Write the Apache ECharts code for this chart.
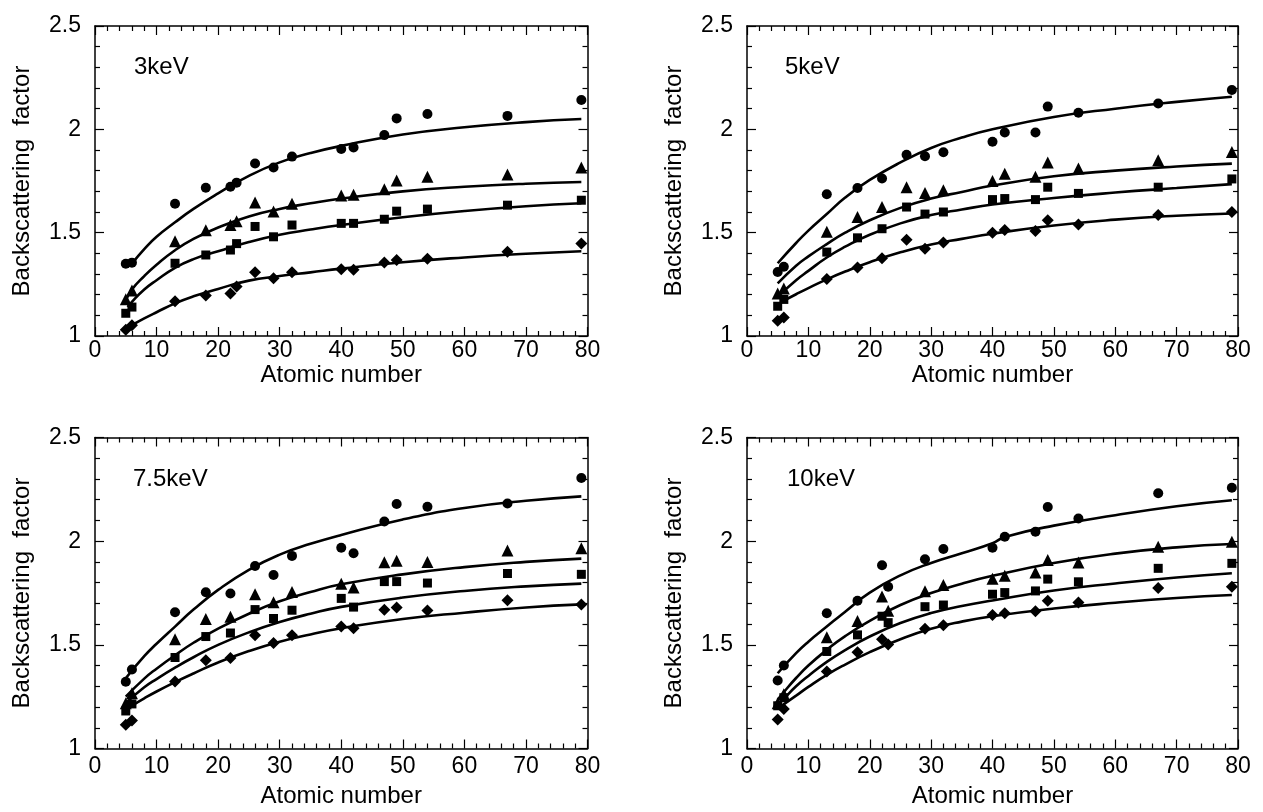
<!DOCTYPE html>
<html><head><meta charset="utf-8">
<script src="https://cdn.jsdelivr.net/npm/echarts@6/dist/echarts.min.js"></script>
<style>html,body{margin:0;padding:0;background:#fff}#c{width:1263px;height:812px}</style>
</head><body><div id="c"></div>
<script>
// ---------- data ----------
const PANEL_LABELS = ['3keV', '5keV', '7.5keV', '10keV'];
const X_TICKS = [0, 10, 20, 30, 40, 50, 60, 70, 80];
const Y_TICKS = [1, 1.5, 2, 2.5];

// 3 keV
const Z_3 = [5, 6, 13, 18, 22, 23, 26, 29, 32, 40, 42, 47, 49, 54, 67, 79];
const CIRC_3 = [1.35, 1.355, 1.64, 1.717, 1.722, 1.742, 1.835, 1.815, 1.868, 1.905, 1.912, 1.972, 2.053, 2.074, 2.065, 2.142];
const TRI_3  = [1.178, 1.22, 1.458, 1.512, 1.537, 1.555, 1.646, 1.603, 1.64, 1.68, 1.684, 1.71, 1.752, 1.77, 1.782, 1.815];
const SQ_3   = [1.11, 1.14, 1.352, 1.392, 1.416, 1.447, 1.53, 1.48, 1.537, 1.545, 1.545, 1.565, 1.604, 1.614, 1.633, 1.657];
const DIA_3  = [1.03, 1.052, 1.168, 1.196, 1.206, 1.24, 1.308, 1.28, 1.308, 1.323, 1.32, 1.356, 1.368, 1.374, 1.408, 1.447];
const FIT_CIRC_3 = [[6,1.35],[8,1.42],[10,1.48],[13,1.55],[16,1.615],[20,1.69],[25,1.775],[30,1.84],[35,1.885],[40,1.92],[50,1.975],[60,2.01],[70,2.035],[79,2.05]];
const FIT_TRI_3  = [[5,1.17],[6,1.225],[8,1.29],[10,1.345],[13,1.415],[16,1.47],[20,1.525],[25,1.578],[30,1.615],[35,1.642],[40,1.665],[50,1.7],[60,1.722],[70,1.737],[79,1.745]];
const FIT_SQ_3   = [[5.3,1.14],[6,1.165],[8,1.225],[10,1.27],[13,1.33],[16,1.372],[20,1.41],[25,1.455],[30,1.49],[35,1.515],[40,1.537],[50,1.575],[60,1.605],[70,1.628],[79,1.642]];
const FIT_DIA_3  = [[5,1.035],[6,1.052],[8,1.085],[10,1.115],[13,1.158],[16,1.192],[20,1.228],[25,1.268],[30,1.29],[35,1.308],[40,1.326],[50,1.357],[60,1.38],[70,1.398],[79,1.41]];

// 5 keV
const Z_5 = [5, 6, 13, 18, 22, 26, 29, 32, 40, 42, 47, 49, 54, 67, 79];
const CIRC_5 = [1.31, 1.335, 1.686, 1.716, 1.762, 1.877, 1.87, 1.889, 1.94, 1.985, 1.985, 2.11, 2.08, 2.125, 2.19];
const TRI_5  = [1.206, 1.23, 1.505, 1.576, 1.624, 1.72, 1.692, 1.705, 1.75, 1.785, 1.77, 1.84, 1.81, 1.85, 1.89];
const SQ_5   = [1.144, 1.177, 1.406, 1.475, 1.519, 1.624, 1.59, 1.6, 1.66, 1.665, 1.66, 1.72, 1.69, 1.72, 1.76];
const DIA_5  = [1.074, 1.09, 1.276, 1.332, 1.376, 1.466, 1.422, 1.453, 1.5, 1.513, 1.508, 1.56, 1.54, 1.585, 1.6];
const FIT_CIRC_5 = [[5,1.352],[8,1.45],[10,1.51],[13,1.59],[16,1.67],[20,1.755],[25,1.84],[30,1.91],[35,1.96],[40,2.0],[50,2.06],[60,2.1],[70,2.133],[79,2.158]];
const FIT_TRI_5  = [[5,1.255],[8,1.34],[10,1.385],[13,1.445],[16,1.5],[20,1.56],[25,1.62],[30,1.665],[35,1.697],[40,1.728],[50,1.773],[60,1.8],[70,1.82],[79,1.834]];
const FIT_SQ_5   = [[5,1.19],[8,1.27],[10,1.315],[13,1.38],[16,1.432],[20,1.49],[25,1.545],[30,1.585],[35,1.612],[40,1.636],[50,1.668],[60,1.694],[70,1.716],[79,1.735]];
const FIT_DIA_5  = [[5.7,1.166],[8,1.202],[10,1.232],[13,1.274],[16,1.312],[20,1.357],[25,1.405],[30,1.443],[35,1.47],[40,1.495],[50,1.535],[60,1.563],[70,1.582],[79,1.593]];

// 7.5 keV
const Z_75 = [5, 6, 13, 18, 22, 26, 29, 32, 40, 42, 47, 49, 54, 67, 79];
const CIRC_75 = [1.322, 1.381, 1.657, 1.754, 1.748, 1.88, 1.837, 1.929, 1.968, 1.942, 2.095, 2.179, 2.166, 2.182, 2.305];
const TRI_75  = [1.218, 1.267, 1.527, 1.624, 1.635, 1.744, 1.705, 1.755, 1.795, 1.777, 1.898, 1.906, 1.9, 1.955, 1.966];
const SQ_75   = [1.181, 1.215, 1.439, 1.54, 1.557, 1.67, 1.627, 1.667, 1.724, 1.682, 1.805, 1.805, 1.798, 1.844, 1.84];
const DIA_75  = [1.115, 1.135, 1.323, 1.426, 1.437, 1.546, 1.509, 1.546, 1.589, 1.58, 1.669, 1.68, 1.666, 1.715, 1.695];
const FIT_CIRC_75 = [[5,1.339],[8,1.445],[10,1.505],[13,1.588],[16,1.67],[20,1.765],[25,1.862],[30,1.935],[35,1.987],[40,2.03],[50,2.105],[60,2.16],[70,2.195],[79,2.216]];
const FIT_TRI_75  = [[5,1.25],[8,1.337],[10,1.385],[13,1.45],[16,1.51],[20,1.578],[25,1.65],[30,1.71],[35,1.755],[40,1.792],[50,1.84],[60,1.875],[70,1.9],[79,1.916]];
const FIT_SQ_75   = [[5,1.219],[8,1.295],[10,1.335],[13,1.39],[16,1.44],[20,1.5],[25,1.56],[30,1.61],[35,1.65],[40,1.683],[50,1.728],[60,1.76],[70,1.782],[79,1.795]];
const FIT_DIA_75  = [[5.8,1.203],[8,1.242],[10,1.275],[13,1.32],[16,1.362],[20,1.415],[25,1.47],[30,1.515],[35,1.55],[40,1.58],[50,1.625],[60,1.655],[70,1.68],[79,1.695]];

// 10 keV
const Z_10 = [5, 6, 13, 18, 22, 23, 29, 32, 40, 42, 47, 49, 54, 67, 79];
const CIRC_10 = [1.328, 1.4, 1.652, 1.713, 1.884, 1.78, 1.913, 1.962, 1.968, 2.021, 2.045, 2.165, 2.109, 2.231, 2.258];
const TRI_10  = [1.218, 1.262, 1.536, 1.615, 1.733, 1.664, 1.758, 1.788, 1.819, 1.833, 1.849, 1.909, 1.897, 1.973, 1.997];
const SQ_10   = [1.206, 1.245, 1.468, 1.548, 1.638, 1.607, 1.684, 1.692, 1.744, 1.752, 1.76, 1.817, 1.804, 1.869, 1.893];
const DIA_10  = [1.14, 1.19, 1.371, 1.464, 1.527, 1.502, 1.577, 1.595, 1.644, 1.652, 1.662, 1.713, 1.704, 1.774, 1.78];
const FIT_CIRC_10 = [[5,1.363],[8,1.46],[10,1.515],[13,1.588],[16,1.66],[20,1.752],[25,1.835],[30,1.895],[35,1.942],[40,1.99],[42,2.02],[50,2.075],[60,2.125],[70,2.168],[79,2.197]];
const FIT_TRI_10  = [[5,1.235],[6,1.272],[8,1.34],[10,1.4],[13,1.476],[16,1.542],[20,1.615],[25,1.692],[30,1.75],[35,1.795],[40,1.833],[50,1.895],[60,1.94],[70,1.97],[79,1.986]];
const FIT_SQ_10   = [[5,1.21],[6,1.24],[8,1.3],[10,1.35],[13,1.418],[16,1.475],[20,1.54],[25,1.605],[30,1.653],[35,1.687],[40,1.714],[50,1.762],[60,1.796],[70,1.825],[79,1.845]];
const FIT_DIA_10  = [[5.5,1.203],[8,1.255],[10,1.297],[13,1.355],[16,1.405],[20,1.465],[25,1.527],[30,1.577],[35,1.612],[40,1.638],[50,1.675],[60,1.703],[70,1.726],[79,1.74]];

// ---------- chart ----------
const F = '"Liberation Sans", Arial, Helvetica, sans-serif';
const PANELS = [
  {z: Z_3,  pts: [CIRC_3, TRI_3, SQ_3, DIA_3],     fits: [FIT_CIRC_3, FIT_TRI_3, FIT_SQ_3, FIT_DIA_3]},
  {z: Z_5,  pts: [CIRC_5, TRI_5, SQ_5, DIA_5],     fits: [FIT_CIRC_5, FIT_TRI_5, FIT_SQ_5, FIT_DIA_5]},
  {z: Z_75, pts: [CIRC_75, TRI_75, SQ_75, DIA_75], fits: [FIT_CIRC_75, FIT_TRI_75, FIT_SQ_75, FIT_DIA_75]},
  {z: Z_10, pts: [CIRC_10, TRI_10, SQ_10, DIA_10], fits: [FIT_CIRC_10, FIT_TRI_10, FIT_SQ_10, FIT_DIA_10]}
];
const SYMBOLS = ['circle', 'triangle', 'rect', 'diamond'];
const SIZES = [10, 12, 9, 12];

const GRIDS = [
  {left: 95,  top: 26,    width: 492.5, height: 310},
  {left: 747, top: 26,    width: 491,   height: 310},
  {left: 95,  top: 437.5, width: 492.5, height: 311},
  {left: 747, top: 437.5, width: 491,   height: 311}
];
const XLABEL_MARGIN = [3, 3, 7, 7];
const XNAME_GAP = [26, 26, 36, 36];
const LABEL_POS = [[134, 55], [785, 55], [133, 467], [787, 467]];

const lineSty = {color: '#000', width: 1.5};
const tickSty = {color: '#000', width: 1.2};

const xAxis = [], yAxis = [], series = [], title = [];
GRIDS.forEach((g, i) => {
  const base = {
    gridIndex: i, type: 'value', splitLine: {show: false},
    axisLine: {show: true, onZero: false, lineStyle: lineSty},
    axisTick: {show: true, inside: true, length: 9, lineStyle: tickSty},
    minorTick: {show: true, splitNumber: 5, length: 5, lineStyle: tickSty}
  };
  const xr = {min: X_TICKS[0], max: X_TICKS[X_TICKS.length - 1], interval: X_TICKS[1] - X_TICKS[0]};
  const yr = {min: Y_TICKS[0], max: Y_TICKS[Y_TICKS.length - 1], interval: Y_TICKS[1] - Y_TICKS[0]};
  xAxis.push(Object.assign({}, base, xr, {
    position: 'bottom',
    axisLabel: {color: '#000', fontSize: 23, fontFamily: F, margin: XLABEL_MARGIN[i]},
    name: 'Atomic number', nameLocation: 'middle', nameGap: XNAME_GAP[i],
    nameTextStyle: {color: '#000', fontSize: 24, fontFamily: F, verticalAlign: 'top'}
  }));
  xAxis.push(Object.assign({}, base, xr, {position: 'top', axisLabel: {show: false}}));
  yAxis.push(Object.assign({}, base, yr, {
    position: 'left',
    axisLabel: {color: '#000', fontSize: 23, fontFamily: F, margin: 14, formatter: v => String(v)},
    name: 'Backscattering  factor', nameLocation: 'middle', nameGap: 61, nameRotate: 90,
    nameTextStyle: {color: '#000', fontSize: 24, fontFamily: F}
  }));
  yAxis.push(Object.assign({}, base, yr, {position: 'right', axisLabel: {show: false}}));
  title.push({
    text: PANEL_LABELS[i], left: LABEL_POS[i][0], top: LABEL_POS[i][1], padding: 0,
    textStyle: {color: '#000', fontSize: 24, fontWeight: 'normal', fontFamily: F}
  });
  const p = PANELS[i];
  p.fits.forEach(fit => {
    series.push({
      type: 'line', xAxisIndex: 2 * i, yAxisIndex: 2 * i, data: fit,
      smooth: 0.5, showSymbol: false, symbol: 'none',
      lineStyle: {color: '#000', width: 2.6}, silent: true, z: 2
    });
  });
  p.pts.forEach((vals, k) => {
    series.push({
      type: 'scatter', xAxisIndex: 2 * i, yAxisIndex: 2 * i,
      data: p.z.map((z, j) => [z, vals[j]]),
      symbol: SYMBOLS[k], symbolSize: SIZES[k],
      itemStyle: {color: '#000', opacity: 1}, z: 3
    });
  });
});

const chart = echarts.init(document.getElementById('c'), null, {renderer: 'canvas'});
chart.setOption({
  animation: false, backgroundColor: '#fff',
  title, grid: GRIDS, xAxis, yAxis, series
});
</script></body></html>
